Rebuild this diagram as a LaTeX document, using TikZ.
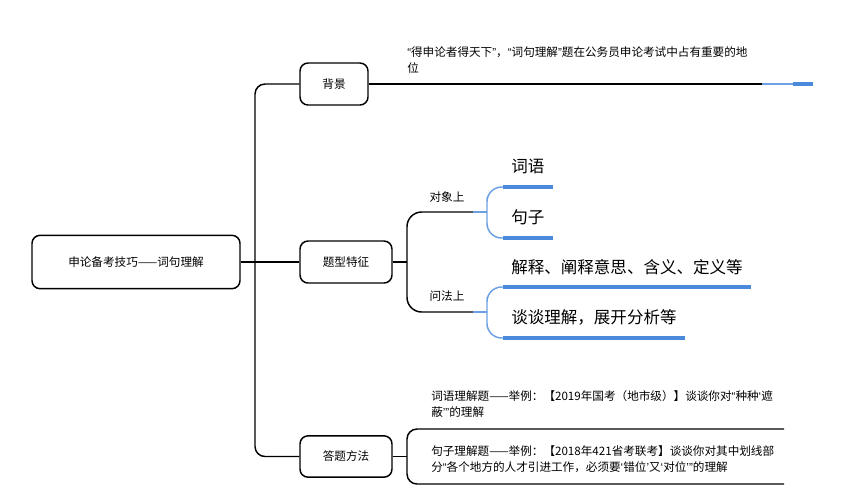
\documentclass[tikz,border=0pt]{standalone}
\usepackage{fontspec}
\setmainfont{Noto Sans CJK SC}
\newfontfamily\qfont{Liberation Sans}
\usepackage{xcolor}
\usetikzlibrary{positioning,calc}
\definecolor{mmblue}{RGB}{74,137,220}
\definecolor{mmthin}{RGB}{108,160,228}
\tikzset{
  topic/.style={draw, rounded corners=6pt, line width=1.1pt, inner sep=0pt,
                font=\fontsize{8.7}{12}\selectfont},
  conn/.style={line width=1.1pt},
  tie/.style={line width=1.1pt, mmthin},
  ul/.style={line width=2.6pt, mmblue},
  word/.style={anchor=south west, inner xsep=6pt, inner ysep=0pt, minimum height=30pt,
               font=\fontsize{12.4}{15}\selectfont},
  lbl/.style={font=\fontsize{8.7}{12}\selectfont, align=left, inner sep=0pt},
}
\newcommand{\dq}[1]{{\qfont “}#1{\qfont ”}}
\newcommand{\sq}[1]{{\qfont ‘}#1{\qfont ’}}

\begin{document}
\begin{tikzpicture}[x=0.75pt, y=-0.75pt]
  \useasboundingbox (0,0) rectangle (864,501);
  % main topics
  \node[topic, minimum width=156pt, minimum height=40pt] (root) at (136,262) {申论备考技巧——词句理解};
  \node[topic, minimum width=51pt, minimum height=31.5pt] (bg) at (334,84) {背景};
  \node[topic, minimum width=69pt, minimum height=31.5pt] (tx) at (346,262) {题型特征};
  \node[topic, minimum width=69pt, minimum height=31pt] (df) at (346,456.5) {答题方法};
  \coordinate (trunk) at (255,262);
  \draw[conn] (root) -- (tx);
  \draw[conn, rounded corners=7.5pt] (bg) -| (trunk) |- (df);
  % background
  \coordinate (bgk) at (762,84);
  \node[word, minimum width=14.25pt] (bgw) at (793,84) {};
  \draw[conn] (bg) -- (bgk);
  \draw[tie] (bgk) -- (bgw.south west);
  \node[lbl, anchor=north west] (bgt) at (407,46)
    {\dq{得申论者得天下}，\dq{词句理解}题在公务员申论考试中占有重要的地\\位};
  % question features
  \coordinate (txj) at (407,262);
  \coordinate (ka) at (473,212); \coordinate (kaj) at (487,212);
  \coordinate (kb) at (473,312); \coordinate (kbj) at (487,312);
  \draw[conn] (tx) -- (txj);
  \draw[conn, rounded corners=11pt] (ka) -| (txj) |- (kb);
  \draw[tie] (ka) -- (kaj);
  \draw[tie] (kb) -- (kbj);
  \node[lbl] (kal) at (447,197) {对象上};
  \node[lbl] (kbl) at (447,296) {问法上};
  \node[word] (w1) at (503,187) {词语};
  \node[word] (w2) at (503,238) {句子};
  \node[word] (w3) at (503,287) {解释、阐释意思、含义、定义等};
  \node[word] (w4) at (503,338) {谈谈理解，展开分析等};
  \draw[tie, rounded corners=11pt] (w1.south west) -| (kaj) |- (w2.south west);
  \draw[tie, rounded corners=11pt] (w3.south west) -| (kbj) |- (w4.south west);
  \foreach \w in {bgw,w1,w2,w3,w4}
    \draw[ul] (\w.south west) -- (\w.south east);
  % answering method
  \coordinate (dfj) at (407,456.5);
  \coordinate (da) at (784,429); \coordinate (db) at (784,484);
  \draw[conn] (df) -- (dfj);
  \draw[conn, rounded corners=7.5pt] (da) -| (dfj) |- (db);
  \node[lbl, anchor=north west] (dat) at (431,390)
    {词语理解题——举例：【2019年国考（地市级）】谈谈你对\dq{种种\sq{遮\\蔽}}的理解};
  \node[lbl, anchor=north west] (dbt) at (431,445)
    {句子理解题——举例：【2018年421省考联考】谈谈你对其中划线部\\分\dq{各个地方的人才引进工作，必须要\sq{错位}又\sq{对位}}的理解};
\end{tikzpicture}
\end{document}
